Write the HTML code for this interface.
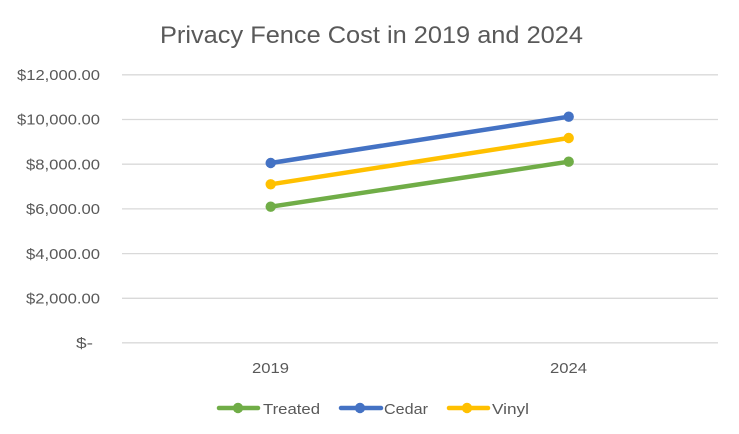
<!DOCTYPE html>
<html>
<head>
<meta charset="utf-8">
<style>
  html,body{margin:0;padding:0;background:#fff;}
  svg{display:block;}
  text{font-family:"Liberation Sans",sans-serif;fill:#595959;}
</style>
</head>
<body>
<svg width="739" height="434" viewBox="0 0 739 434" xmlns="http://www.w3.org/2000/svg">
  <rect width="739" height="434" fill="#fff"/>
  <text x="160" y="43" font-size="24" textLength="423" lengthAdjust="spacingAndGlyphs">Privacy Fence Cost in 2019 and 2024</text>

  <g stroke="#D9D9D9" stroke-width="1.3">
    <line x1="122" y1="74.8" x2="718" y2="74.8"/>
    <line x1="122" y1="119.5" x2="718" y2="119.5"/>
    <line x1="122" y1="164.2" x2="718" y2="164.2"/>
    <line x1="122" y1="208.9" x2="718" y2="208.9"/>
    <line x1="122" y1="253.6" x2="718" y2="253.6"/>
    <line x1="122" y1="298.3" x2="718" y2="298.3"/>
    <line x1="122" y1="342.8" x2="718" y2="342.8"/>
  </g>

  <g font-size="15">
    <text x="17" y="80" textLength="83" lengthAdjust="spacingAndGlyphs">$12,000.00</text>
    <text x="17" y="124.7" textLength="83" lengthAdjust="spacingAndGlyphs">$10,000.00</text>
    <text x="26" y="169.4" textLength="74" lengthAdjust="spacingAndGlyphs">$8,000.00</text>
    <text x="26" y="214.1" textLength="74" lengthAdjust="spacingAndGlyphs">$6,000.00</text>
    <text x="26" y="258.8" textLength="74" lengthAdjust="spacingAndGlyphs">$4,000.00</text>
    <text x="26" y="303.5" textLength="74" lengthAdjust="spacingAndGlyphs">$2,000.00</text>
    <text x="76" y="348" textLength="17" lengthAdjust="spacingAndGlyphs">$-</text>

    <text x="252" y="373" textLength="37" lengthAdjust="spacingAndGlyphs">2019</text>
    <text x="550" y="373" textLength="37" lengthAdjust="spacingAndGlyphs">2024</text>
  </g>

  <g stroke-width="4.5" stroke-linecap="round" fill="none">
    <line x1="270.7" y1="206.7" x2="568.7" y2="161.7" stroke="#70AD47"/>
    <line x1="270.7" y1="184.3" x2="568.7" y2="138" stroke="#FFC000"/>
    <line x1="270.7" y1="163" x2="568.7" y2="116.7" stroke="#4472C4"/>
  </g>
  <g>
    <circle cx="270.7" cy="206.7" r="5.2" fill="#70AD47"/>
    <circle cx="568.7" cy="161.7" r="5.2" fill="#70AD47"/>
    <circle cx="270.7" cy="184.3" r="5.2" fill="#FFC000"/>
    <circle cx="568.7" cy="138" r="5.2" fill="#FFC000"/>
    <circle cx="270.7" cy="163" r="5.2" fill="#4472C4"/>
    <circle cx="568.7" cy="116.7" r="5.2" fill="#4472C4"/>
  </g>

  <g stroke-width="4.5" stroke-linecap="round">
    <line x1="219" y1="408" x2="258" y2="408" stroke="#70AD47"/>
    <line x1="341" y1="408" x2="381" y2="408" stroke="#4472C4"/>
    <line x1="449" y1="408" x2="488" y2="408" stroke="#FFC000"/>
  </g>
  <circle cx="238" cy="408" r="5.2" fill="#70AD47"/>
  <circle cx="360" cy="408" r="5.2" fill="#4472C4"/>
  <circle cx="467" cy="408" r="5.2" fill="#FFC000"/>
  <g font-size="15">
    <text x="263" y="414" textLength="57" lengthAdjust="spacingAndGlyphs">Treated</text>
    <text x="384" y="414" textLength="44" lengthAdjust="spacingAndGlyphs">Cedar</text>
    <text x="492" y="414" textLength="37" lengthAdjust="spacingAndGlyphs">Vinyl</text>
  </g>
</svg>
</body>
</html>
